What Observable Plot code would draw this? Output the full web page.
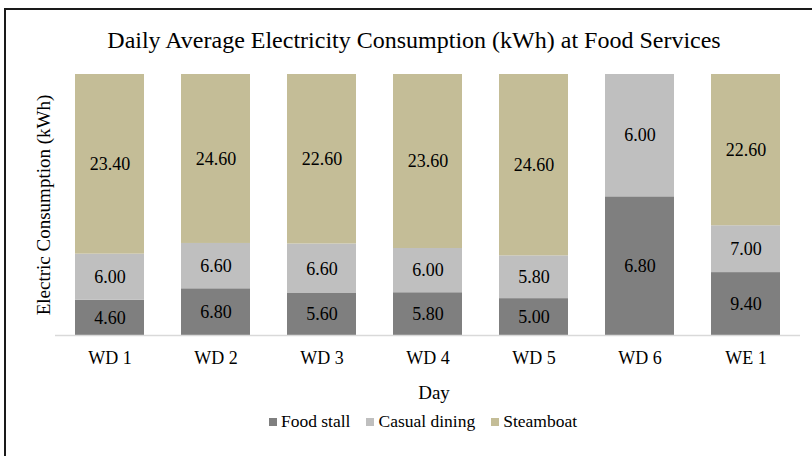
<!DOCTYPE html>
<html>
<head>
<meta charset="utf-8">
<script src="https://cdn.jsdelivr.net/npm/d3@7"></script>
<script src="https://cdn.jsdelivr.net/npm/@observablehq/plot@0.6"></script>
<style>
  html, body { margin: 0; padding: 0; background: #fff; }
  #wrap { position: relative; width: 812px; height: 456px; overflow: hidden; }
  #frame { position: absolute; left: 4px; top: 8px; width: 820px; height: 460px; border-left: 2px solid #1a1a1a; border-top: 2px solid #1a1a1a; box-sizing: border-box; }
  .serif { font-family: 'Liberation Serif', 'Times New Roman', serif; }
  #title { position: absolute; left: 8px; width: 812px; top: 27px; text-align: center; font-size: 24px; color: #000; }
  #chart { position: absolute; left: 0; top: 60px; }
  #legend { position: absolute; left: 17px; width: 812px; top: 411px; text-align: center; font-size: 17.5px; color: #000; white-space: nowrap; }
  .item { display: inline-block; margin: 0 8px; }
  .sw { display: inline-block; width: 8px; height: 8px; margin-right: 4px; vertical-align: 1px; }
</style>
</head>
<body>
<div id="wrap">
  <div id="frame"></div>
  <div id="title" class="serif">Daily Average Electricity Consumption (kWh) at Food Services</div>
  <div id="chart"></div>
  <div id="legend" class="serif"></div>
</div>
<script>
const days = ["WD 1", "WD 2", "WD 3", "WD 4", "WD 5", "WD 6", "WE 1"];
const seriesNames = ["Food stall", "Casual dining", "Steamboat"];
const colors = ["#7f7f7f", "#bfbfbf", "#c4bd97"];
const foodStall = [4.6, 6.8, 5.6, 5.8, 5.0, 6.8, 9.4];
const casualDining = [6.0, 6.6, 6.6, 6.0, 5.8, 6.0, 7.0];
const steamboat = [23.4, 24.6, 22.6, 23.6, 24.6, 0, 22.6];

const seriesValues = [foodStall, casualDining, steamboat];
const data = [];
seriesNames.forEach((s, si) => {
  days.forEach((d, di) => data.push({day: d, series: s, value: seriesValues[si][di]}));
});

const font = "Liberation Serif, Times New Roman, serif";
const chart = Plot.plot({
  width: 812,
  height: 350,
  marginTop: 14,
  marginBottom: 75,
  marginLeft: 55,
  marginRight: 12,
  style: {fontFamily: font, fontSize: "18px", color: "#000", background: "transparent"},
  x: {domain: days, paddingInner: 0.352, paddingOuter: 0.17, label: null},
  y: {axis: null, domain: [0, 1]},
  color: {domain: seriesNames, range: colors},
  marks: [
    Plot.barY(data, Plot.stackY({offset: "normalize"}, {x: "day", y: "value", fill: "series"})),
    Plot.text(data, Plot.stackY({offset: "normalize"}, {
      x: "day", y: "value",
      text: d => d.value > 0 ? d.value.toFixed(2) : "",
      fill: "#000", fontSize: 18
    })),
    Plot.ruleY([0], {stroke: "#d9d9d9", strokeWidth: 1.5}),
    Plot.axisX({tickSize: 0, tickPadding: 16, fontSize: 18, label: null}),
    Plot.text(["Day"], {frameAnchor: "bottom", dx: 6, dy: 63, fontSize: 19, fill: "#000"}),
    Plot.text(["Electric Consumption (kWh)"], {frameAnchor: "left", textAnchor: "middle", rotate: -90, dx: -12, fontSize: 19, fill: "#000"})
  ]
});
document.getElementById("chart").appendChild(chart);

const legend = document.getElementById("legend");
seriesNames.forEach((s, i) => {
  const it = document.createElement("span");
  it.className = "item";
  const sw = document.createElement("span");
  sw.className = "sw";
  sw.style.background = colors[i];
  it.appendChild(sw);
  it.appendChild(document.createTextNode(s));
  legend.appendChild(it);
});
</script>
</body>
</html>
